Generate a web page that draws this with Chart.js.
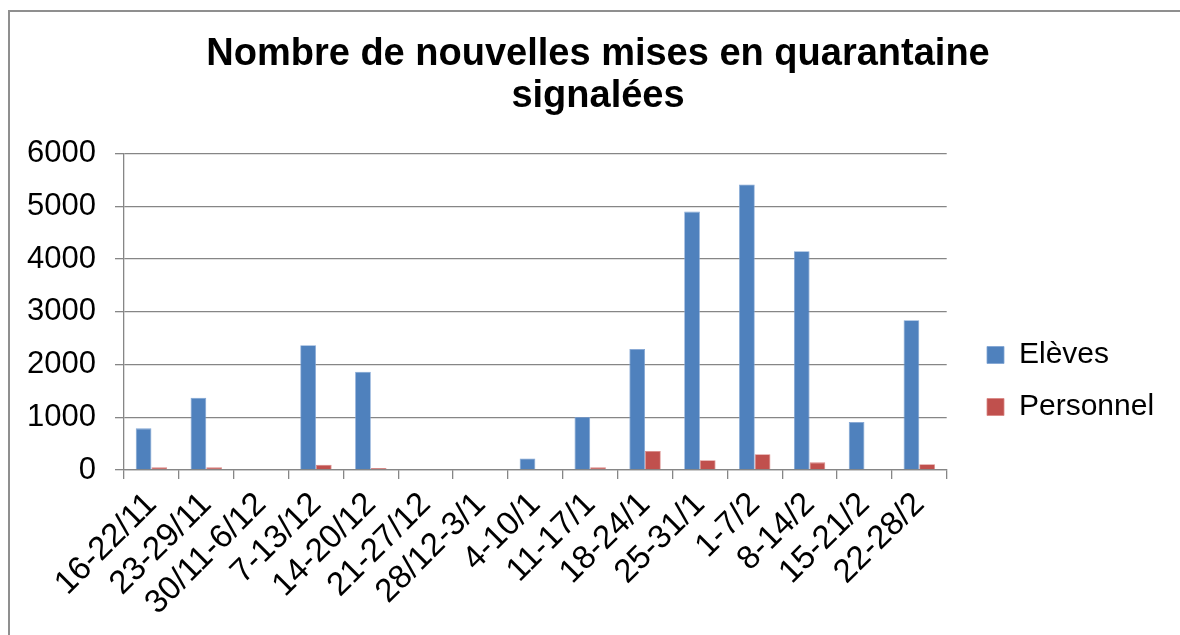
<!DOCTYPE html>
<html><head><meta charset="utf-8">
<script src="https://cdn.jsdelivr.net/npm/chart.js@4.4.1/dist/chart.umd.min.js"></script>
<style>
html,body{margin:0;padding:0;background:#fff;overflow:hidden;width:1180px;height:635px;}
#frame{position:absolute;left:8px;top:10px;width:1300px;height:800px;border-left:2px solid #8f8f8f;border-top:2px solid #8f8f8f;}
#wrap{position:absolute;left:0;top:0;width:1196px;height:635px;}
</style></head><body>
<div id="frame"></div>
<div id="wrap"><canvas id="c" width="1196" height="635"></canvas></div>
<script>
const categories = ["16-22/11","23-29/11","30/11-6/12","7-13/12","14-20/12","21-27/12","28/12-3/1","4-10/1","11-17/1","18-24/1","25-31/1","1-7/2","8-14/2","15-21/2","22-28/2"];
const eleves = [790, 1370, 0, 2365, 1865, 0, 0, 220, 1005, 2295, 4900, 5415, 4150, 910, 2840];
const personnel = [50, 50, 0, 100, 40, 0, 0, 15, 50, 360, 185, 300, 145, 15, 110];
const seriesNames = ["Elèves", "Personnel"];
const titleLines = ["Nombre de nouvelles mises en quarantaine", "signalées"];
const yMin = 0, yMax = 6000, yStep = 1000;

const FONT = "'Liberation Sans', Arial, sans-serif";
const GRID = '#868686';

const legendFix = {
  id: 'legendFix',
  beforeLayout(chart) {
    const L = chart.legend;
    if (L && !L._patched) {
      const f = L.fit;
      L.fit = function () { f.call(this); this.width = 1196 - 946.7; };
      L._patched = true;
    }
  },
  afterLayout(chart) {
    const L = chart.legend;
    const w = L.width, h = L.height;
    L.left = 987 - 22; L.right = L.left + w;
    L.top = 318; L.bottom = L.top + h;
  }
};

new Chart(document.getElementById('c'), {
  type: 'bar',
  data: {
    labels: categories,
    datasets: [
      { label: seriesNames[0], data: eleves, backgroundColor: '#4F81BD', borderColor: '#7FA3D3', borderWidth: 0.8 },
      { label: seriesNames[1], data: personnel, backgroundColor: '#C0504D', borderColor: '#D98583', borderWidth: 0.8 }
    ]
  },
  plugins: [legendFix],
  options: {
    responsive: false,
    animation: false,
    devicePixelRatio: 1,
    layout: { padding: 0 },
    datasets: { bar: { categoryPercentage: 0.572, barPercentage: 1.0 } },
    plugins: {
      title: {
        display: true, text: titleLines, color: '#000',
        font: { family: FONT, size: 38, weight: 'bold', lineHeight: 1.1 },
        padding: { top: 34, bottom: 36 }
      },
      legend: {
        position: 'right', align: 'start',
        labels: {
          color: '#000', boxWidth: 17, boxHeight: 17, padding: 22,
          font: { family: FONT, size: 30 }
        }
      },
      tooltip: { enabled: false }
    },
    scales: {
      x: {
        grid: { display: true, drawOnChartArea: false, drawTicks: true, tickLength: 9, color: GRID, lineWidth: 1.3, offset: true },
        border: { display: true, color: GRID, width: 1.3 },
        ticks: { color: '#000', font: { family: FONT, size: 33 }, minRotation: 45, maxRotation: 45, autoSkip: false, padding: 6 },
        afterFit(scale) { scale.height = 165; }
      },
      y: {
        min: yMin, max: yMax,
        grid: { color: GRID, lineWidth: 1.3, tickLength: 9, drawTicks: true },
        border: { display: true, color: GRID, width: 1.3 },
        ticks: { stepSize: yStep, color: '#000', font: { family: FONT, size: 31 }, padding: 19, callback: (v) => String(v) },
        afterFit(scale) { scale.width = 124; }
      }
    }
  }
});
</script>
</body></html>
